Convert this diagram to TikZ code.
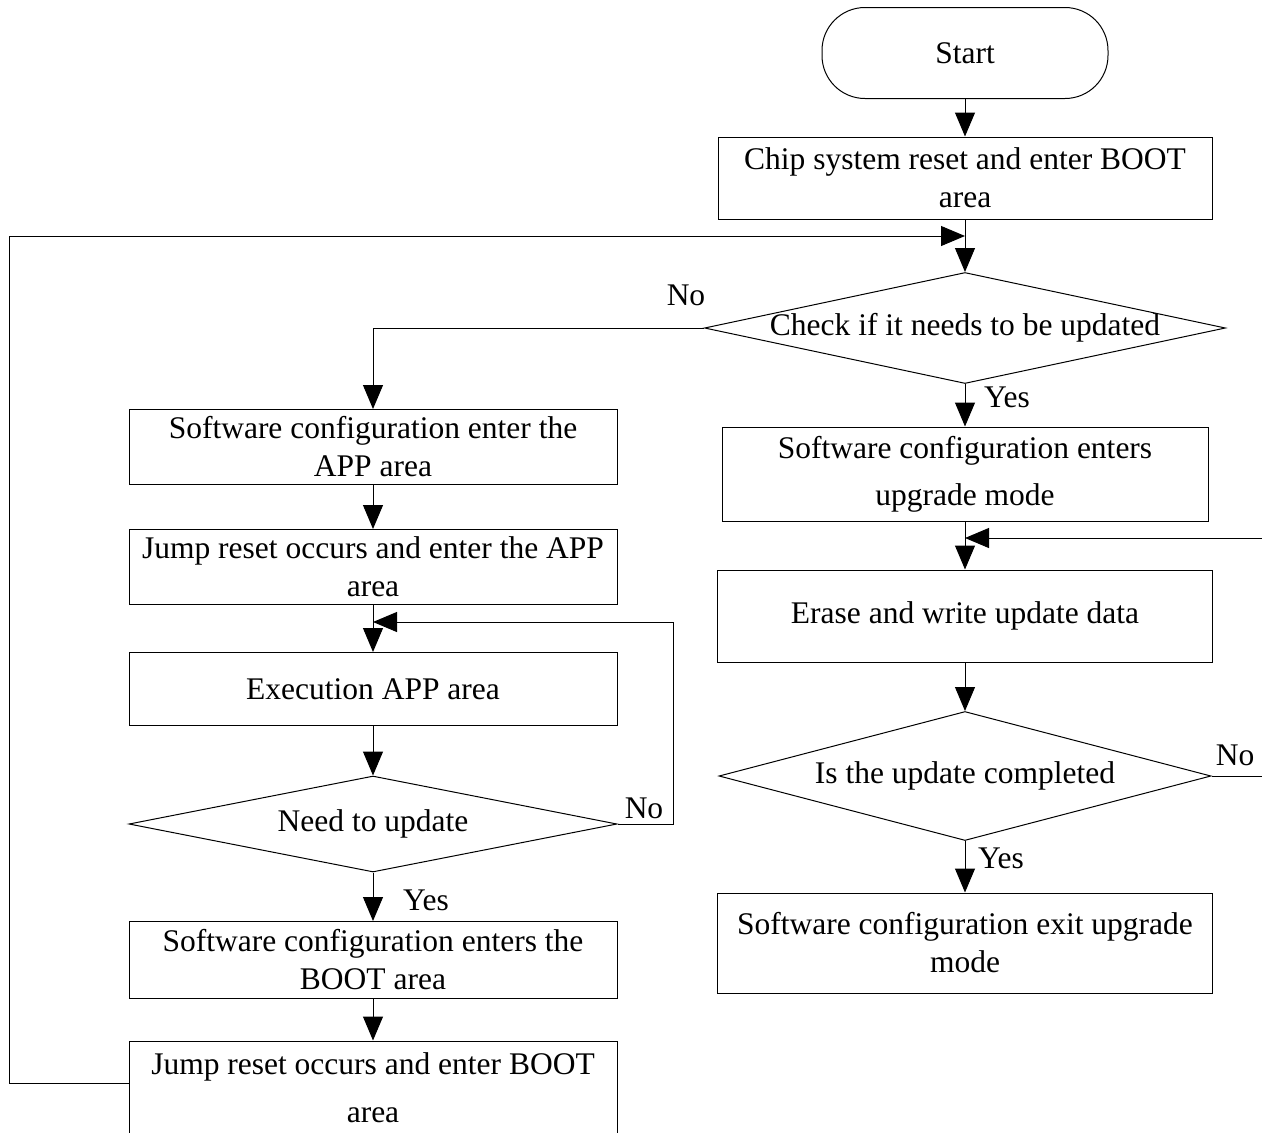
\documentclass[tikz,border=0pt]{standalone}
\usepackage{fontspec}
\setmainfont{Liberation Serif}
\usetikzlibrary{arrows.meta,shapes.geometric}

\begin{document}
\begin{tikzpicture}[x=1pt,y=-1pt,
    every node/.style={font=\fontsize{31.5}{38}\selectfont},
    terminal/.style={draw, line width=1pt, rounded corners=43pt, minimum width=286pt, minimum height=91pt, inner sep=0pt},
    stepbox/.style={draw, line width=1pt, align=center, inner sep=0pt},
    decision/.style={draw, line width=1pt, diamond, inner sep=0pt},
    flow/.style={line width=1pt},
    arr/.style={flow, -{Triangle[width=20pt,length=24pt]}}]
    % --- frame, the picture is cut at the right and bottom ---
    \useasboundingbox (0,0) rectangle (1262,1133);
    \clip (0,0) rectangle (1262,1133);

    % --- Right column: BOOT area ---
    \node[terminal] (start) at (965,53) {Start};
    \node[stepbox, minimum width=494pt, minimum height=82pt] (reset) at (965,178)
        {Chip system reset and enter BOOT\\area};
    \coordinate (j1) at (965,236);
    \node[decision, aspect=4.7, inner xsep=-18pt, minimum width=521pt, minimum height=111pt] (check) at (965,328)
        {Check if it needs to be updated};
    \node[stepbox, minimum width=486pt, minimum height=94pt] (upgcfg) at (965,474)
        {Software configuration enters\\[9pt]upgrade mode};
    \coordinate (j3) at (965,538);
    \node[stepbox, minimum width=495pt, minimum height=92pt] (erase) at (965,616)
        {Erase and write update data};
    \node[decision, aspect=3.8, minimum width=492pt, minimum height=129pt] (done) at (965,776)
        {Is the update completed};
    \node[stepbox, minimum width=495pt, minimum height=100pt] (exitcfg) at (965,943)
        {Software configuration exit upgrade\\mode};

    % --- Left column: APP area ---
    \node[stepbox, minimum width=488pt, minimum height=75pt] (appcfg) at (373,447)
        {Software configuration enter the\\APP area};
    \node[stepbox, minimum width=488pt, minimum height=75pt] (jumpapp) at (373,567)
        {Jump reset occurs and enter the APP\\area};
    \coordinate (j2) at (373,622);
    \node[stepbox, minimum width=488pt, minimum height=73pt] (runapp) at (373,689)
        {Execution APP area};
    \node[decision, aspect=5.08, minimum width=488pt, minimum height=96pt] (needupd) at (373,824)
        {Need to update};
    \node[stepbox, minimum width=488pt, minimum height=77pt] (bootcfg) at (373,960)
        {Software configuration enters the\\BOOT area};
    \node[stepbox, minimum width=488pt, minimum height=94pt] (jumpboot) at (373,1088)
        {Jump reset occurs and enter BOOT\\[10pt]area};

    % --- Branch labels ---
    \node (no1) at (686,295) {No};
    \node (yes1) at (1007,397) {Yes};
    \node (no2) at (644,808) {No};
    \node (yes2) at (426,900) {Yes};
    \node (no3) at (1235,755) {No};
    \node (yes3) at (1001,858) {Yes};

    % --- Connectors ---
    \draw[arr] (start) -- (reset);
    \draw[flow] (reset) -- (j1);
    \draw[arr] (j1) -- (check);
    \draw[arr] (check.south) -- (upgcfg);
    \draw[flow] (upgcfg) -- (j3);
    \draw[arr] (j3) -- (erase);
    \draw[arr] (erase) -- (done);
    \draw[arr] (done.south) -- (exitcfg);
    \draw[arr] (done.east) -- ++(70,0) |- (j3);

    \draw[arr] (check.west) -| (appcfg);
    \draw[arr] (appcfg) -- (jumpapp);
    \draw[flow] (jumpapp) -- (j2);
    \draw[arr] (j2) -- (runapp);
    \draw[arr] (runapp) -- (needupd);
    \draw[arr] (needupd.east) -- ++(56,0) |- (j2);
    \draw[arr] (needupd.south) -- (bootcfg);
    \draw[arr] (bootcfg) -- (jumpboot);
    \draw[arr] ([yshift=5pt]jumpboot.west) -- ++(-119,0) |- (j1);
\end{tikzpicture}
\end{document}
